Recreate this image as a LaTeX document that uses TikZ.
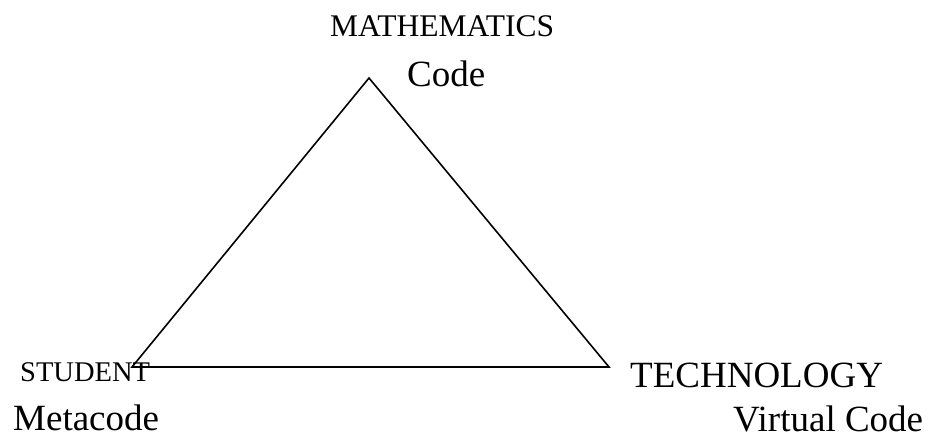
\documentclass[tikz,border=0pt]{standalone}
\usepackage{fontspec}
\setmainfont{Liberation Serif}
\begin{document}
\begin{tikzpicture}[x=1pt,y=-1pt,
  lbl/.style={inner sep=0pt,anchor=base west},
  big/.style={lbl,font=\fontsize{37}{40}\selectfont},
  small/.style={lbl,font=\fontsize{31.5}{34}\selectfont},
  smaller/.style={lbl,font=\fontsize{28.5}{31}\selectfont},
  edge/.style={line width=1.6pt,line join=miter}]
\useasboundingbox (0,0) rectangle (929,441);
\fill[white] (0,0) rectangle (929,441);
\coordinate (top) at (369,78);
\coordinate (left) at (132,367);
\coordinate (right) at (609,367);
\draw[edge] (top) -- (left) -- (right) -- cycle;
\node[small] (math) at (330,37) {MATHEMATICS};
\node[big] (code) at (407,87) {Code};
\node[smaller] (student) at (20,381) {STUDENT};
\node[big] (meta) at (13,430) {Metacode};
\node[big] (tech) at (630,387) {TECHNOLOGY};
\node[big] (virt) at (733,431) {Virtual Code};
\end{tikzpicture}
\end{document}
